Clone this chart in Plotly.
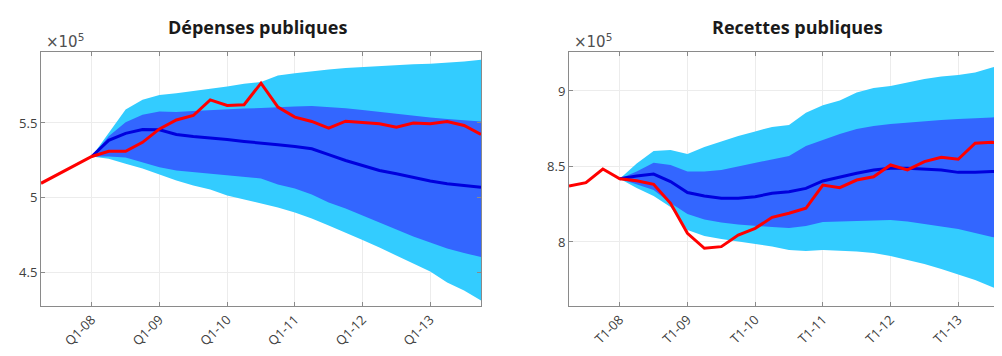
import plotly.graph_objects as go

# Quarters Q2-07 .. Q4-13 (index 0..26)
quarters = ["Q2-07","Q3-07","Q4-07",
            "Q1-08","Q2-08","Q3-08","Q4-08",
            "Q1-09","Q2-09","Q3-09","Q4-09",
            "Q1-10","Q2-10","Q3-10","Q4-10",
            "Q1-11","Q2-11","Q3-11","Q4-11",
            "Q1-12","Q2-12","Q3-12","Q4-12",
            "Q1-13","Q2-13","Q3-13","Q4-13"]
tick_idx = [3, 7, 11, 15, 19, 23]
ticks_left = ["Q1-08", "Q1-09", "Q1-10", "Q1-11", "Q1-12", "Q1-13"]
ticks_right = ["T1-08", "T1-09", "T1-10", "T1-11", "T1-12", "T1-13"]

# ---- Dépenses publiques (x1e5) ----
dep_obs = [5.095, 5.155, 5.215, 5.275, 5.31, 5.31, 5.37, 5.46, 5.52, 5.55, 5.655,
           5.617, 5.622, 5.767, 5.606, 5.539, 5.51, 5.465, 5.512, 5.503, 5.495,
           5.472, 5.499, 5.495, 5.51, 5.483, 5.423]
dep_med = [5.275, 5.383, 5.43, 5.456, 5.454, 5.423, 5.409, 5.40, 5.389, 5.376, 5.367,
           5.354, 5.342, 5.327, 5.287, 5.248, 5.215, 5.181, 5.159, 5.132, 5.11,
           5.092, 5.08, 5.069]
dep_hi90 = [5.275, 5.435, 5.59, 5.655, 5.687, 5.70, 5.713, 5.73, 5.745, 5.763, 5.774,
            5.819, 5.834, 5.848, 5.859, 5.868, 5.875, 5.881, 5.886, 5.893, 5.897,
            5.904, 5.913, 5.924]
dep_hi68 = [5.275, 5.41, 5.505, 5.555, 5.577, 5.573, 5.58, 5.587, 5.593, 5.597, 5.60,
            5.607, 5.611, 5.613, 5.607, 5.599, 5.587, 5.574, 5.564, 5.547, 5.537,
            5.527, 5.517, 5.51]
dep_lo68 = [5.275, 5.275, 5.268, 5.237, 5.203, 5.181, 5.17, 5.159, 5.152, 5.141, 5.128,
            5.087, 5.06, 5.02, 4.966, 4.926, 4.879, 4.832, 4.785, 4.738, 4.698,
            4.658, 4.628, 4.60]
dep_lo90 = [5.275, 5.26, 5.226, 5.195, 5.154, 5.114, 5.081, 5.054, 5.013, 4.985, 4.958,
            4.933, 4.899, 4.859, 4.812, 4.765, 4.715, 4.664, 4.611, 4.557, 4.503,
            4.43, 4.376, 4.309]

# ---- Recettes publiques (x1e5) ----
rec_obs = [8.371, 8.393, 8.483, 8.419, 8.406, 8.382, 8.256, 8.057, 7.958, 7.969, 8.046,
           8.09, 8.163, 8.19, 8.223, 8.377, 8.36, 8.41, 8.432, 8.51, 8.477,
           8.532, 8.561, 8.548, 8.654, 8.66, 8.645]
rec_med = [8.419, 8.437, 8.45, 8.40, 8.327, 8.305, 8.289, 8.289, 8.30, 8.322, 8.333,
           8.355, 8.404, 8.432, 8.455, 8.477, 8.488, 8.488, 8.483, 8.477, 8.461,
           8.461, 8.466, 8.466]
rec_hi90 = [8.419, 8.52, 8.603, 8.609, 8.583, 8.629, 8.666, 8.702, 8.732, 8.762, 8.775,
            8.855, 8.905, 8.937, 8.99, 9.02, 9.033, 9.056, 9.079, 9.096, 9.106,
            9.123, 9.156, 9.179]
rec_hi68 = [8.419, 8.466, 8.525, 8.51, 8.466, 8.466, 8.477, 8.499, 8.521, 8.548, 8.57,
            8.636, 8.675, 8.715, 8.748, 8.768, 8.781, 8.791, 8.798, 8.808, 8.815,
            8.818, 8.825, 8.831]
rec_lo68 = [8.419, 8.384, 8.344, 8.258, 8.185, 8.149, 8.129, 8.116, 8.106, 8.099, 8.093,
            8.106, 8.132, 8.136, 8.139, 8.142, 8.146, 8.136, 8.119, 8.106, 8.086,
            8.06, 8.033, 8.013]
rec_lo90 = [8.419, 8.358, 8.305, 8.232, 8.079, 8.04, 8.02, 8.003, 7.987, 7.97, 7.947,
            7.94, 7.947, 7.944, 7.937, 7.927, 7.907, 7.881, 7.854, 7.821, 7.785,
            7.748, 7.702, 7.656]

LIGHT = "#33CCFF"
DARK = "#3366FF"
BLUE = "#0000DD"
RED = "#FF0000"

x_all = list(range(len(quarters)))
x_fc = list(range(3, len(quarters)))

fig = go.Figure()

def add_panel(xa, ya, obs, med, hi90, hi68, lo68, lo90):
    common = dict(xaxis=xa, yaxis=ya, showlegend=False, hoverinfo="skip")
    fig.add_trace(go.Scatter(x=x_fc, y=lo90, mode="lines", line=dict(width=0, color=LIGHT), **common))
    fig.add_trace(go.Scatter(x=x_fc, y=hi90, mode="lines", line=dict(width=0, color=LIGHT),
                             fill="tonexty", fillcolor=LIGHT, **common))
    fig.add_trace(go.Scatter(x=x_fc, y=lo68, mode="lines", line=dict(width=0, color=DARK), **common))
    fig.add_trace(go.Scatter(x=x_fc, y=hi68, mode="lines", line=dict(width=0, color=DARK),
                             fill="tonexty", fillcolor=DARK, **common))
    fig.add_trace(go.Scatter(x=x_fc, y=med, mode="lines", line=dict(width=3, color=BLUE), **common))
    fig.add_trace(go.Scatter(x=x_all, y=obs, mode="lines", line=dict(width=3, color=RED), **common))

add_panel("x", "y", dep_obs, dep_med, dep_hi90, dep_hi68, dep_lo68, dep_lo90)
add_panel("x2", "y2", rec_obs, rec_med, rec_hi90, rec_hi68, rec_lo68, rec_lo90)

# page body adds an 8px margin; work in figure pixel coordinates
OFF = 8
W, H = 1002 - OFF, 356 - OFF
def px(x):
    return (x - OFF) / W
def py(y):
    return (H - (y - OFF)) / H

top_px, bot_px = 52, 306
ydom = [py(bot_px), py(top_px)]
px_per_q = (481 - 41) / 26.0

axis_font = dict(family="Open Sans, sans-serif", size=13, color="#404040")
xcommon = dict(showline=True, linecolor="#8a8a8a", linewidth=1, ticks="inside", ticklen=4,
               tickcolor="#8a8a8a", showgrid=True, gridcolor="#ececec", gridwidth=1,
               zeroline=False, tickangle=-45, tickfont=axis_font, tickvals=tick_idx)
ycommon = dict(showline=True, linecolor="#8a8a8a", linewidth=1, ticks="inside", ticklen=4,
               tickcolor="#8a8a8a", showgrid=True, gridcolor="#ececec", gridwidth=1,
               zeroline=False, tickfont=axis_font)

fig.update_layout(
    width=W, height=H, margin=dict(l=0, r=0, t=0, b=0),
    paper_bgcolor="white", plot_bgcolor="white",
    xaxis=dict(domain=[px(41), px(481)], range=[0, 26], ticktext=ticks_left,
               anchor="y", mirror="ticks", **xcommon),
    yaxis=dict(domain=ydom, range=[4.272, 5.976], tickvals=[4.5, 5, 5.5],
               ticktext=["4.5", "5", "5.5"], anchor="x", mirror="ticks", **ycommon),
    xaxis2=dict(domain=[px(569), 1.0], range=[0, (1002 - 569) / px_per_q], ticktext=ticks_right,
                anchor="y2", mirror="ticks", **xcommon),
    yaxis2=dict(domain=ydom, range=[7.576, 9.258], tickvals=[8, 8.5, 9],
                ticktext=["8", "8.5", "9"], anchor="x2", mirror=False, **ycommon),
)

title_font = dict(family="Open Sans, sans-serif", size=18, color="#1a1a1a")
fig.add_annotation(text="<b>Dépenses publiques</b>", x=px(258), y=py(27),
                   xanchor="center", yanchor="middle",
                   xref="paper", yref="paper", showarrow=False, font=title_font)
fig.add_annotation(text="<b>Recettes publiques</b>", x=px(797), y=py(27),
                   xanchor="center", yanchor="middle",
                   xref="paper", yref="paper", showarrow=False, font=title_font)
mult_font = dict(family="DejaVu Sans, sans-serif", size=15, color="#505050")
fig.add_annotation(text="×10<sup>5</sup>", x=px(44), y=py(41), xanchor="left", yanchor="middle",
                   xref="paper", yref="paper", showarrow=False, font=mult_font)
fig.add_annotation(text="×10<sup>5</sup>", x=px(572), y=py(41), xanchor="left", yanchor="middle",
                   xref="paper", yref="paper", showarrow=False, font=mult_font)

fig.write_html("out.html")
